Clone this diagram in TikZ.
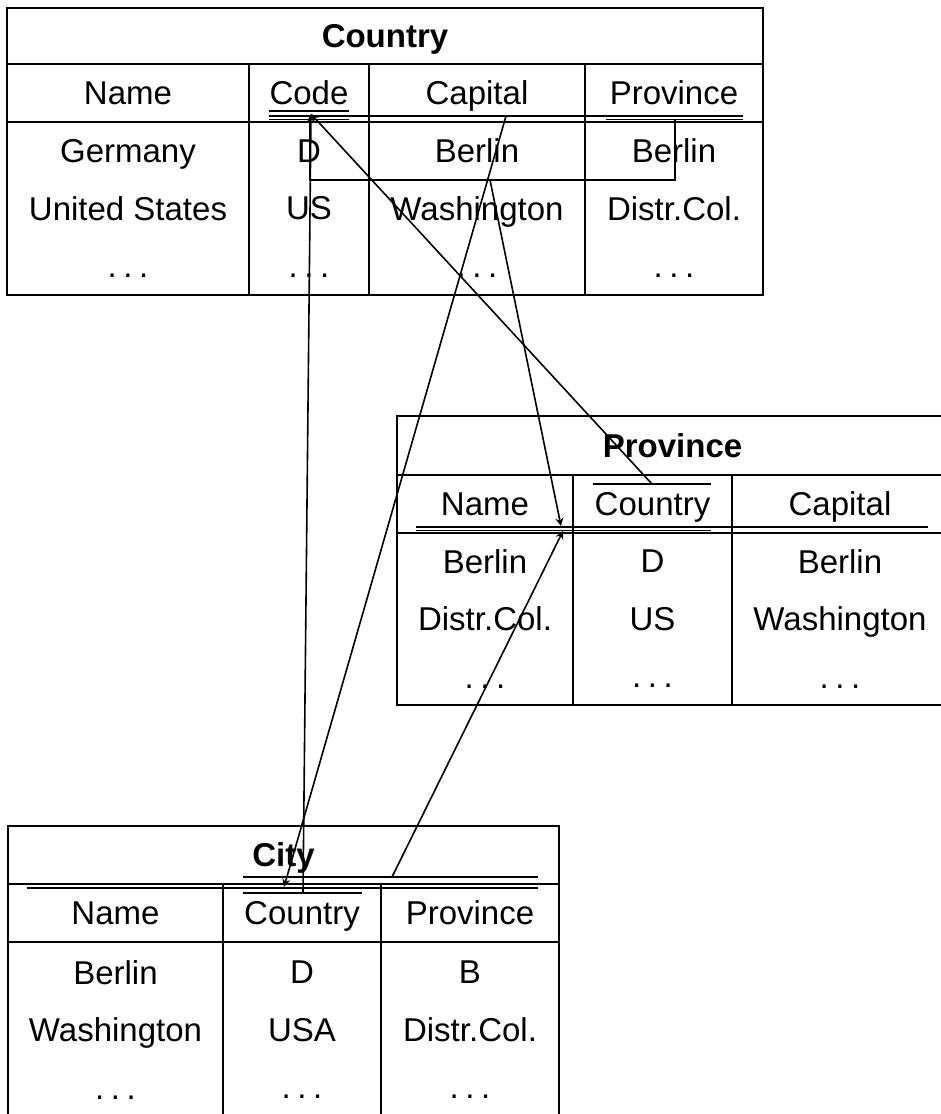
\documentclass[tikz,border=0pt]{standalone}
\usepackage{fontspec}
\setmainfont{Liberation Sans}
\usepackage{tikz}
\usetikzlibrary{positioning, arrows}
\newcommand{\tabfont}{\fontsize{16.5}{28.75}\selectfont}
\newcommand{\tdots}{.\kern0.2em.\kern0.2em.}
\tikzstyle{tabtitle} = [rectangle, draw=black, line width=1pt, outer sep=0pt,
text height=11.8pt, text depth=0pt, font=\tabfont\bfseries]
\tikzstyle{head} = [rectangle, draw=black, line width=1pt, outer sep=0pt,
minimum height=29pt, text height=11.8pt, text depth=0pt, font=\tabfont]
\tikzstyle{body} = [rectangle, draw=black, line width=1pt, outer sep=0pt,
align=center, font=\tabfont]
\tikzstyle{key} = [line width=0.9pt, -]
\tikzstyle{arrow} = [line width=0.8pt, ->, >=stealth]
\tikzstyle{line} = [line width=0.8pt, -]

\begin{document}
\begin{tikzpicture}[x=0.5pt, y=-0.5pt]

      \useasboundingbox (0,0) rectangle (941,1114);
      \clip (0,0) rectangle (941,1114);

      % Country
      \node (CoT) [tabtitle, anchor=north west, minimum width=378pt, minimum height=28pt] at (7,8) {Country};
      \node (CoName) [head, anchor=north west, minimum width=121pt] at (CoT.south west) {Name};
      \node (CoCode) [head, right=0pt of CoName, minimum width=60pt] {Code};
      \node (CoCap) [head, right=0pt of CoCode, minimum width=108pt] {Capital};
      \node (CoProv) [head, right=0pt of CoCap, minimum width=89pt] {Province};
      \node (CoNameB) [body, below=0pt of CoName, minimum width=121pt, minimum height=86.5pt] {Germany\\United States\\\tdots};
      \node (CoCodeB) [body, below=0pt of CoCode, minimum width=60pt, minimum height=86.5pt] {D\\US\\\tdots};
      \node (CoCapB) [body, below=0pt of CoCap, minimum width=108pt, minimum height=86.5pt] {Berlin\\Washington\\\tdots};
      \node (CoProvB) [body, below=0pt of CoProv, minimum width=89pt, minimum height=86.5pt] {Berlin\\Distr.Col.\\\tdots};

      % Province
      \node (PrT) [tabtitle, anchor=north west, minimum width=275.5pt, minimum height=29.5pt] at (397,416) {Province};
      \node (PrName) [head, anchor=north west, minimum width=88pt] at (PrT.south west) {Name};
      \node (PrCountry) [head, right=0pt of PrName, minimum width=79.5pt] {Country};
      \node (PrCap) [head, right=0pt of PrCountry, minimum width=108pt] {Capital};
      \node (PrNameB) [body, below=0pt of PrName, minimum width=88pt, minimum height=86pt] {Berlin\\Distr.Col.\\\tdots};
      \node (PrCountryB) [body, below=0pt of PrCountry, minimum width=79.5pt, minimum height=86pt] {D\\US\\\tdots};
      \node (PrCapB) [body, below=0pt of PrCap, minimum width=108pt, minimum height=86pt] {Berlin\\Washington\\\tdots};

      % City
      \node (CiT) [tabtitle, anchor=north west, minimum width=275.5pt, minimum height=29pt] at (8,826) {City};
      \node (CiName) [head, anchor=north west, minimum width=107.5pt] at (CiT.south west) {Name};
      \node (CiCountry) [head, right=0pt of CiName, minimum width=79pt] {Country};
      \node (CiProv) [head, right=0pt of CiCountry, minimum width=89pt] {Province};
      \node (CiNameB) [body, below=0pt of CiName, minimum width=107.5pt, minimum height=88pt] {Berlin\\Washington\\\tdots};
      \node (CiCountryB) [body, below=0pt of CiCountry, minimum width=79pt, minimum height=88pt] {D\\USA\\\tdots};
      \node (CiProvB) [body, below=0pt of CiProv, minimum width=89pt, minimum height=88pt] {B\\Distr.Col.\\\tdots};

      % keys and foreign keys
      \draw [key] (269,111) -- (349,111);
      \draw [key] (269,116) -- (743,116);
      \draw [key] (269,119.5) -- (349,119.5);
      \draw [key] (606,119.5) -- (743,119.5);

      \draw [key] (416,527) -- (928,527);
      \draw [key] (416,530.5) -- (711,530.5);
      \draw [key] (593,484) -- (711,484);

      \draw [key] (243,877) -- (538,877);
      \draw [key] (27,888) -- (538,888);
      \draw [key] (243,893) -- (362,893);

      \coordinate (brL) at (310,119.5);
      \coordinate (brR) at (675,119.5);
      \coordinate (brM) at (490,180);
      \coordinate (capK) at (506,116);
      \coordinate (CodeTip) at (311,114);
      \coordinate (PrKeyA) at (561,526);
      \coordinate (PrKeyB) at (563,531);
      \coordinate (PrFK) at (652,484);
      \coordinate (CiKey) at (284,887);
      \coordinate (CiFK) at (303,893);
      \coordinate (CiPr) at (392,877);

      \draw [line] (brL) |- (brR |- brM) -- (brR);
      \draw [arrow] (brM) -- (PrKeyA);
      \draw [arrow] (capK) -- (CiKey);
      \draw [arrow] (PrFK) -- (CodeTip);
      \draw [arrow] (CiFK) -- (CodeTip);
      \draw [arrow] (CiPr) -- (PrKeyB);

\end{tikzpicture}
\end{document}
